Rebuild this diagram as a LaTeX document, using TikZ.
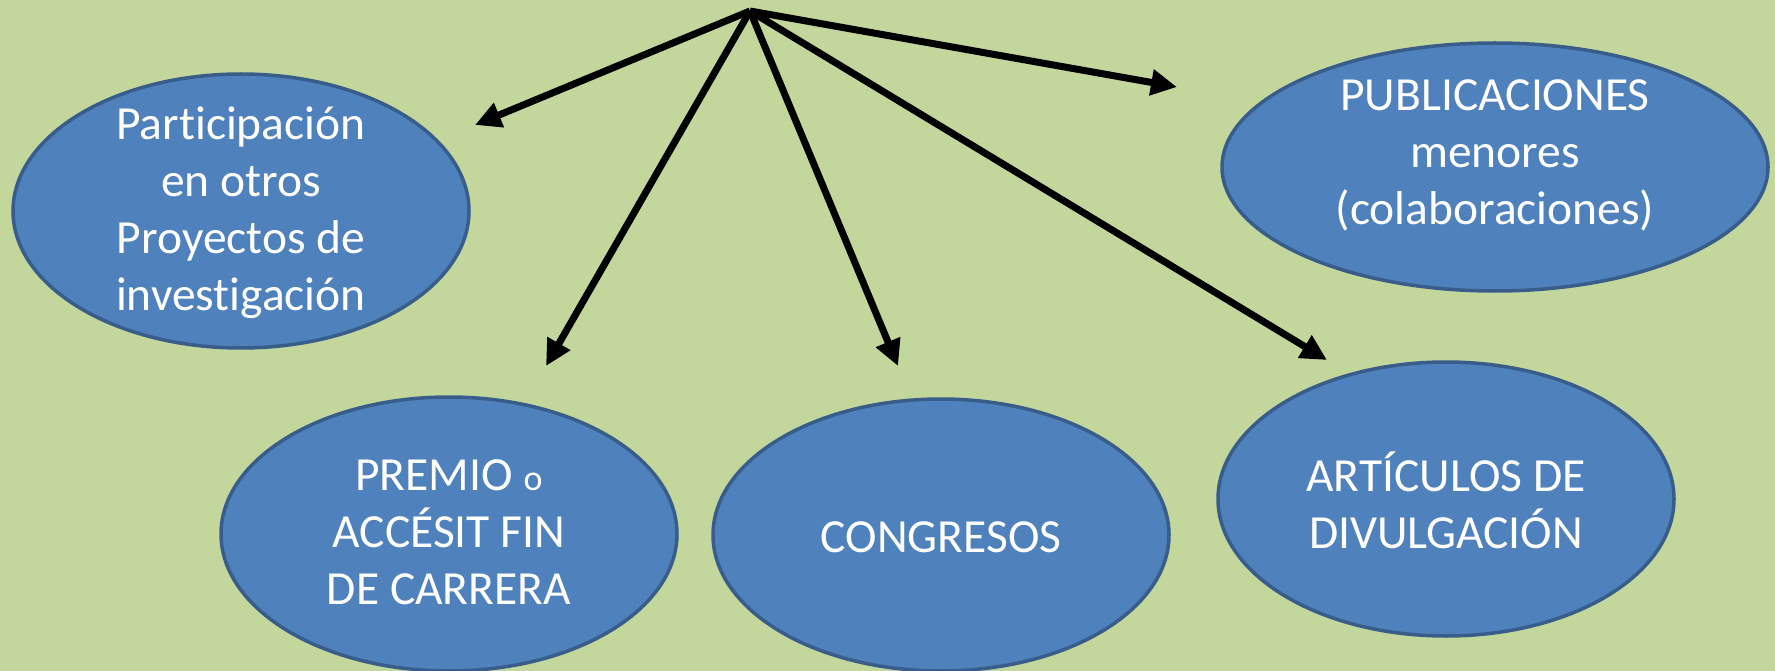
\documentclass[tikz,border=0pt]{standalone}
\usepackage{fontspec}
\setmainfont[Ligatures=NoCommon]{Carlito}
\usetikzlibrary{arrows.meta,shapes.geometric}
\definecolor{bgg}{HTML}{C3D69B}
\definecolor{ellfill}{HTML}{4F81BD}
\definecolor{elldraw}{HTML}{385D8A}
\tikzset{
  oval/.style={ellipse, fill=ellfill, draw=elldraw, line width=3.5pt, inner sep=0pt},
  ovaltext/.style={text=white, align=center, font=\fontsize{47.5}{57}\selectfont, inner sep=0pt},
  arr/.style={line width=7pt, -{Triangle[length=26pt,width=25pt]}}
}
\begin{document}
\begin{tikzpicture}[x=1pt,y=-1pt]
\fill[bgg] (0,0) rectangle (1775,671);
\useasboundingbox (0,0) rectangle (1775,671);
% ellipses
\node[oval, minimum width=456pt, minimum height=274pt] (part) at (241,211) {};
\node[oval, minimum width=546pt, minimum height=248pt] (publ) at (1495,167) {};
\node[oval, minimum width=456pt, minimum height=274pt] (prem) at (449,534) {};
\node[oval, minimum width=456pt, minimum height=272pt] (cong) at (941,535) {};
\node[oval, minimum width=456pt, minimum height=274pt] (arti) at (1446,499) {};
% texts
\node[ovaltext] (tpart) at (241,213) {Participación\\en otros\\Proyectos de\\investigación};
\node[ovaltext] (tpubl) at (1495,155) {PUBLICACIONES\\menores\\(colaboraciones)};
\node[ovaltext] (tprem) at (449,532) {PREMIO {\fontsize{36}{57}\selectfont o}\\ACCÉSIT FIN\\DE CARRERA};
\node[ovaltext] (tcong) at (941,537) {CONGRESOS};
\node[ovaltext] (tarti) at (1446,500) {ARTÍCULOS DE\\DIVULGACIÓN};
% arrow ends
\coordinate (apex) at (750,11);
\coordinate (epart) at (475,125);
\coordinate (eprem) at (546,366);
\coordinate (econg) at (898,366);
\coordinate (earti) at (1327,360);
\coordinate (epubl) at (1177,87);
\draw[arr] (apex) -- (epart);
\draw[arr] (apex) -- (eprem);
\draw[arr] (apex) -- (econg);
\draw[arr] (apex) -- (earti);
\draw[arr] (apex) -- (epubl);
\end{tikzpicture}
\end{document}
